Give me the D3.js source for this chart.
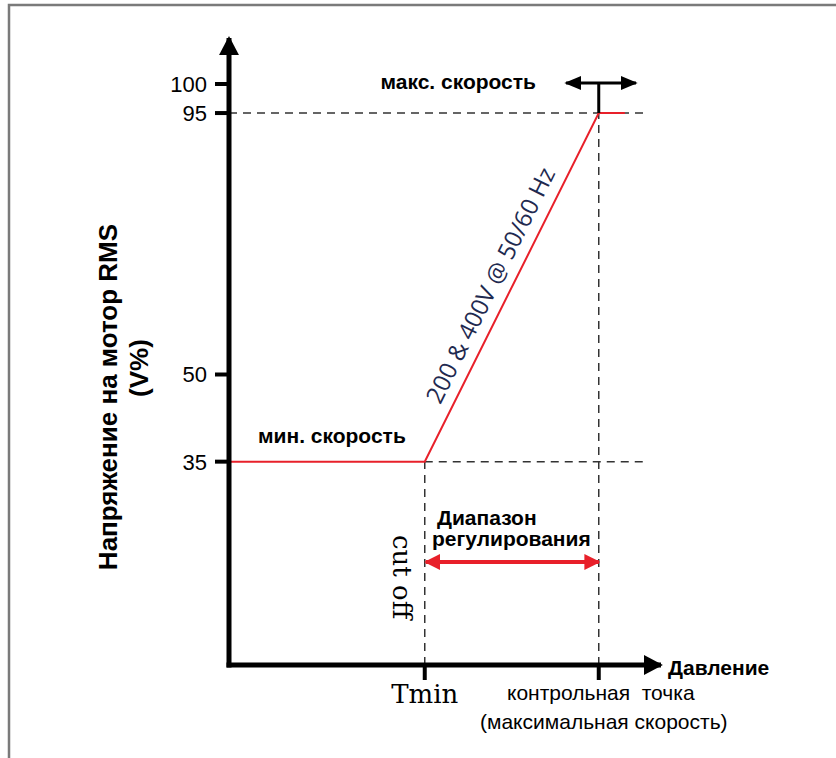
<!DOCTYPE html>
<html>
<head>
<meta charset="utf-8">
<script src="https://cdn.jsdelivr.net/npm/d3@7"></script>
<style>
  body { margin: 0; background: #fff; }
  svg { display: block; }
</style>
</head>
<body>
<div id="chart"></div>
<script>
// y-axis ticks (voltage, %)
const yTicks = [35, 50, 95, 100];
// pressure breakpoints (arbitrary 0..100 axis units)
const xTmin = 45;
const xSet = 85;
// red voltage curve: [pressure, V%]
const curve = [[0, 35], [45, 35], [85, 95], [91, 95]];
// dashed guides
const hGuides = [{ y: 95, x0: 0, x1: 96 }, { y: 35, x0: 45, x1: 96 }];
const vGuides = [{ x: 45, y0: 0, y1: 35 }, { x: 85, y0: 0, y1: 95 }];

const W = 836, H = 758;
const svg = d3.select('#chart').append('svg')
    .attr('width', W).attr('height', H);

// outer frame (top + left edges)
svg.append('path')
    .attr('d', `M9,${H} L9,5 L${W},5`)
    .attr('fill', 'none').attr('stroke', '#7a7a7a').attr('stroke-width', 2.5);

const x = d3.scaleLinear().domain([0, 100]).range([229, 664]);
const y = d3.scaleLinear().domain([0, 100]).range([665, 84]);

const defs = svg.append('defs');
function marker(id, color, w, h) {
    defs.append('marker').attr('id', id)
        .attr('viewBox', '0 0 10 10').attr('refX', 9).attr('refY', 5)
        .attr('markerWidth', w).attr('markerHeight', h)
        .attr('markerUnits', 'userSpaceOnUse')
        .attr('orient', 'auto-start-reverse')
        .attr('preserveAspectRatio', 'none')
        .append('path').attr('d', 'M0,0 L10,5 L0,10 Z').attr('fill', color);
}
marker('blk', '#000', 19, 20);
marker('blkS', '#000', 17, 14);
marker('red', '#e8202a', 16, 16);

// dashed guides
const dash = svg.append('g').attr('stroke', '#333').attr('stroke-width', 1.5)
    .attr('stroke-dasharray', '8,6').attr('fill', 'none');
dash.selectAll('.h').data(hGuides).join('line')
    .attr('x1', d => x(d.x0)).attr('x2', d => x(d.x1))
    .attr('y1', d => y(d.y)).attr('y2', d => y(d.y));
dash.selectAll('.v').data(vGuides).join('line')
    .attr('x1', d => x(d.x)).attr('x2', d => x(d.x))
    .attr('y1', d => y(d.y0)).attr('y2', d => y(d.y1));

// red curve
svg.append('path').datum(curve)
    .attr('d', d3.line().x(d => x(d[0])).y(d => y(d[1])))
    .attr('fill', 'none').attr('stroke', '#e8202a').attr('stroke-width', 2);

// axes
svg.append('line')
    .attr('x1', x(0)).attr('x2', x(0))
    .attr('y1', y(0) + 2.5).attr('y2', 38)
    .attr('stroke', '#000').attr('stroke-width', 5)
    .attr('marker-end', 'url(#blk)');
svg.append('line')
    .attr('x1', x(0) - 2.5).attr('x2', 661)
    .attr('y1', y(0)).attr('y2', y(0))
    .attr('stroke', '#000').attr('stroke-width', 5)
    .attr('marker-end', 'url(#blk)');

// y ticks
const yt = svg.append('g');
yt.selectAll('line').data(yTicks).join('line')
    .attr('x1', x(0) - 14).attr('x2', x(0))
    .attr('y1', d => y(d)).attr('y2', d => y(d))
    .attr('stroke', '#000').attr('stroke-width', 4);
yt.selectAll('text').data(yTicks).join('text')
    .attr('x', x(0) - 22).attr('y', d => y(d))
    .attr('dy', '0.36em').attr('text-anchor', 'end')
    .attr('font-family', 'Liberation Sans, Arial, sans-serif')
    .attr('font-size', 22).text(d => d);

// x ticks
svg.selectAll('.xt').data([xTmin, xSet]).join('line')
    .attr('x1', d => x(d)).attr('x2', d => x(d))
    .attr('y1', y(0)).attr('y2', y(0) + 15)
    .attr('stroke', '#000').attr('stroke-width', 4);

// max speed double arrow
svg.append('line')
    .attr('x1', x(xSet)).attr('x2', x(xSet))
    .attr('y1', 83).attr('y2', y(95))
    .attr('stroke', '#000').attr('stroke-width', 3);
svg.append('line')
    .attr('x1', 566).attr('x2', 636).attr('y1', 83).attr('y2', 83)
    .attr('stroke', '#000').attr('stroke-width', 3)
    .attr('marker-start', 'url(#blkS)').attr('marker-end', 'url(#blkS)');

// regulation range red arrow
svg.append('line')
    .attr('x1', x(xTmin) + 1).attr('x2', x(xSet))
    .attr('y1', 562).attr('y2', 562)
    .attr('stroke', '#e8202a').attr('stroke-width', 4)
    .attr('marker-start', 'url(#red)').attr('marker-end', 'url(#red)');

const sans = 'Liberation Sans, Arial, sans-serif';
const serif = 'DejaVu Serif, Liberation Serif, serif';
function label(tx, ty, str, opts = {}) {
    return svg.append('text')
        .attr('x', tx).attr('y', ty)
        .attr('font-family', opts.family || sans)
        .attr('font-size', opts.size || 21)
        .attr('font-weight', opts.weight || 'normal')
        .attr('text-anchor', opts.anchor || 'start')
        .attr('fill', opts.fill || '#000')
        .style('white-space', 'pre')
        .attr('transform', opts.rotate ? `rotate(${opts.rotate},${tx},${ty})` : null)
        .text(str);
}

label(536, 89, 'макс. скорость', { weight: 'bold', anchor: 'end' });
label(258, 443, 'мин. скорость', { weight: 'bold' });
label(437, 525, 'Диапазон', { weight: 'bold' });
label(432, 546, 'регулирования', { weight: 'bold' });
label(393, 535, 'cut off', { family: serif, size: 26, rotate: 90 });
label(x(xTmin), 703, 'Tmin', { family: serif, size: 26, anchor: 'middle' });
label(668, 675, 'Давление', { weight: 'bold' });
label(507, 700, 'контрольная  точка', { size: 21 });
label(480, 729, '(максимальная скорость)', { size: 21 });

// rotated line label
label(498, 289, '200 & 400V @ 50/60 Hz', {
    family: 'Open Sans, sans-serif', size: 24, anchor: 'middle',
    fill: '#1f2a50', rotate: -63.6
});

// y-axis title
label(117, 397, 'Напряжение на мотор RMS', { weight: 'bold', size: 26, anchor: 'middle', rotate: -90 });
label(148, 368, '(V%)', { weight: 'bold', size: 26, anchor: 'middle', rotate: -90 });
</script>
</body>
</html>
